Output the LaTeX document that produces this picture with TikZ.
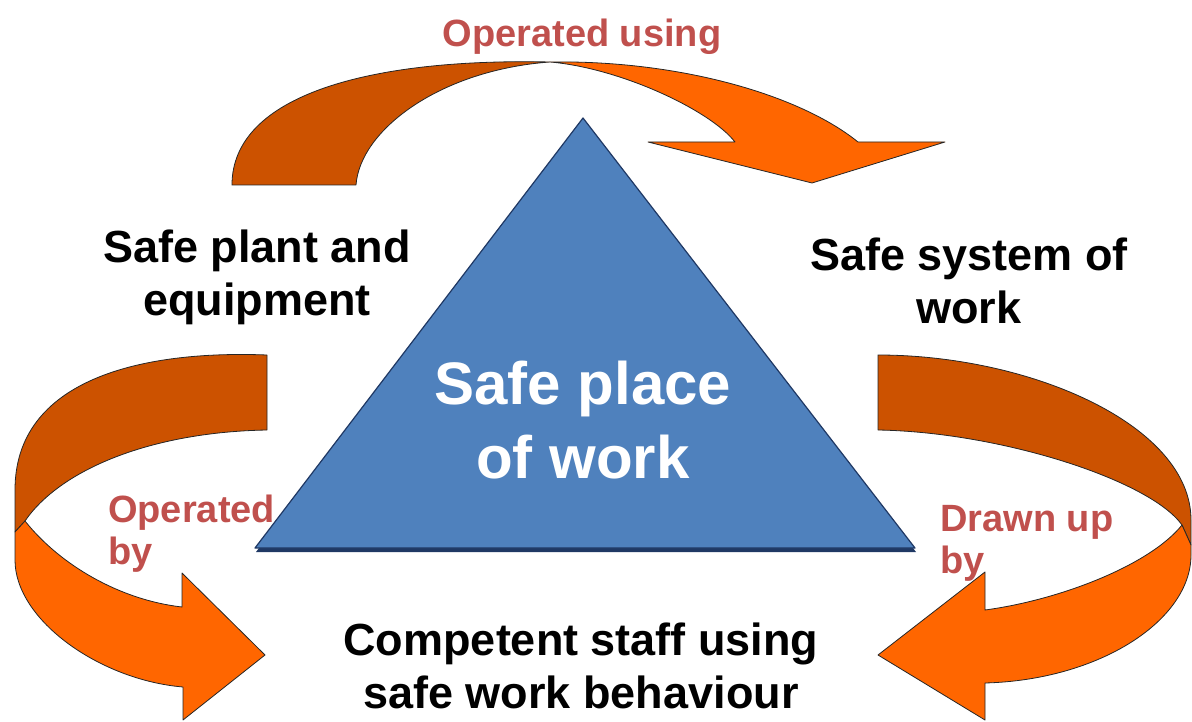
\documentclass[tikz,border=0pt]{standalone}
\usepackage{fontspec}
\setmainfont{Liberation Sans}
\usepackage{tikz}
\usetikzlibrary{calc}
\definecolor{bandback}{HTML}{CC5200}
\definecolor{bandfront}{HTML}{FF6600}
\definecolor{placeblue}{HTML}{4F81BD}
\definecolor{placeedge}{HTML}{1F3864}
\definecolor{linkred}{HTML}{C0504D}

\begin{document}
\begin{tikzpicture}[
x=1pt, y=-1pt,
BackBand/.style={fill=bandback, draw=black!85, line width=0.8pt, line join=round},
FrontBand/.style={fill=bandfront, draw=black!85, line width=0.8pt, line join=round},
Corner/.style={font=\fontsize{45}{53}\selectfont\bfseries, align=center, inner sep=0pt},
Centre/.style={font=\fontsize{60}{74}\selectfont\bfseries, align=center, inner sep=0pt, text=white},
Links/.style={font=\fontsize{38}{42}\selectfont\bfseries, align=left, inner sep=0pt, text=linkred}
]
\useasboundingbox (0,0) rectangle (1192,722);

% top arrow: plant -> system
\draw[BackBand] (232,185) .. controls (232,95) and (370,58) .. (550,62)
  .. controls (440,70) and (360,130) .. (356,185) -- cycle;
\draw[FrontBand] (550,62) .. controls (680,60) and (800,95) .. (858,142)
  -- (945,142) -- (812,183) -- (648,142) -- (735,142)
  .. controls (710,110) and (620,68) .. (550,62) -- cycle;

% left arrow: plant -> staff
\draw[BackBand] (267,355) .. controls (140,350) and (15,380) .. (15,490)
  -- (15,532) -- (25,521) .. controls (60,470) and (150,432) .. (267,430) -- cycle;
\draw[FrontBand] (15,532) -- (25,521) .. controls (60,565) and (120,600) .. (182,607)
  -- (182,573) -- (265,655) -- (183,720) -- (183,687)
  .. controls (100,680) and (15,620) .. (15,560) -- cycle;

% right arrow: system -> staff
\draw[BackBand] (878,355) .. controls (1030,355) and (1191,425) .. (1191,520)
  -- (1191,545) -- (1182,525) .. controls (1150,480) and (1000,432) .. (878,430) -- cycle;
\draw[FrontBand] (1191,545) -- (1182,525) .. controls (1150,565) and (1060,600) .. (985,610)
  -- (985,572) -- (878,655) -- (985,720) -- (985,683)
  .. controls (1100,680) and (1191,620) .. (1191,555) -- cycle;

% the triangle
\coordinate (Apex) at (583,118);
\coordinate (BaseL) at (255,548);
\coordinate (BaseR) at (915,548);
\fill[placeedge] ($(Apex)+(1,4)$) -- ($(BaseL)+(1,4)$) -- ($(BaseR)+(1,4)$) -- cycle;
\draw[fill=placeblue, draw=placeedge, line width=1.2pt, line join=round] (Apex) -- (BaseL) -- (BaseR) -- cycle;

\node[Centre] (place) at (583,420) {Safe place\\of work};

% corner texts
\node[Corner] (plant) at (257,277) {Safe plant and\\equipment};
\node[Corner] (system) at (969,281) {Safe system of\\work};
\node[Corner] (staff) at (581,666) {Competent staff using\\safe work behaviour};

% arrow labels
\node[Links, anchor=base] (using) at (582,47) {Operated using};
\node[Links, anchor=north west] (opby) at (108,495) {Operated\\by};
\node[Links, anchor=north west] (drawnby) at (940,505) {Drawn up\\by};

\end{tikzpicture}
\end{document}
